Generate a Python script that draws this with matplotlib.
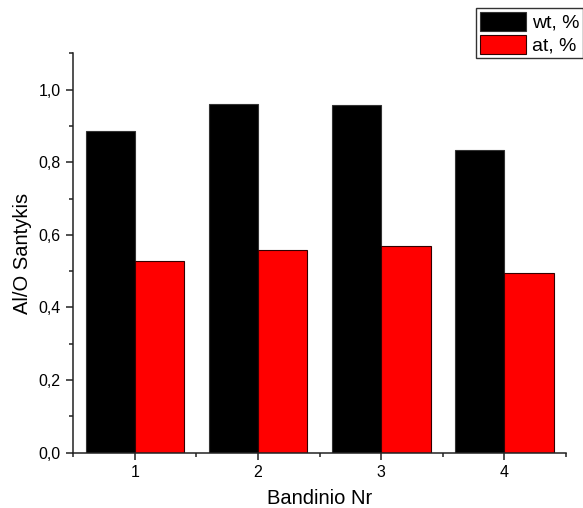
import numpy as np
import matplotlib
matplotlib.use("Agg")
import matplotlib.pyplot as plt
from matplotlib.ticker import MultipleLocator, FuncFormatter

plt.rcParams['font.family'] = ['Liberation Sans', 'DejaVu Sans']

SAMPLES = [1, 2, 3, 4]
WT_RATIO = [0.887, 0.961, 0.957, 0.835]
AT_RATIO = [0.528, 0.558, 0.568, 0.494]
SERIES_LABELS = ['wt, %', 'at, %']

fig = plt.figure(figsize=(5.83, 5.08), dpi=100)
ax = fig.add_axes([0.1257, 0.1089, 0.971 - 0.1257, 0.895 - 0.1089])

x = np.array(SAMPLES)
w = 0.4
ax.bar(x - w / 2, WT_RATIO, width=w, color='black', edgecolor='#333333', linewidth=0.8, label=SERIES_LABELS[0])
ax.bar(x + w / 2, AT_RATIO, width=w, color='#ff0000', edgecolor='#330000', linewidth=0.8, label=SERIES_LABELS[1])

ax.set_xlim(0.5, 4.5)
ax.set_ylim(0, 1.1)
ax.xaxis.set_major_locator(MultipleLocator(1))
ax.xaxis.set_minor_locator(MultipleLocator(0.5))
ax.yaxis.set_major_locator(MultipleLocator(0.2))
ax.yaxis.set_minor_locator(MultipleLocator(0.1))
ax.yaxis.set_major_formatter(FuncFormatter(lambda v, p: f"{v:.1f}".replace('.', ',')))

for side in ['top', 'right']:
    ax.spines[side].set_visible(False)
for side in ['left', 'bottom']:
    ax.spines[side].set_linewidth(1.1)
    ax.spines[side].set_color('#222222')

ax.tick_params(which='major', direction='out', length=5, width=1.1, labelsize=11.5, color='#222222', pad=4)
ax.tick_params(which='minor', direction='out', length=3, width=1.1, color='#222222')

ax.set_xlabel('Bandinio Nr', fontsize=14.5, labelpad=6)
ax.set_ylabel('Al/O Santykis', fontsize=14.5, labelpad=5)

# legend sits in the top right corner and runs off the figure edge
leg = fig.legend(loc='upper left', bbox_to_anchor=(476 / 583, 1 - 8 / 508),
                 fontsize=14, frameon=True, fancybox=False, shadow=False,
                 handlelength=2.4, handleheight=1.15, labelspacing=0.15,
                 borderpad=0.18, handletextpad=0.3, borderaxespad=0)
leg.get_frame().set_edgecolor('black')
leg.get_frame().set_linewidth(1.0)

fig.savefig('out.png', dpi=100)
